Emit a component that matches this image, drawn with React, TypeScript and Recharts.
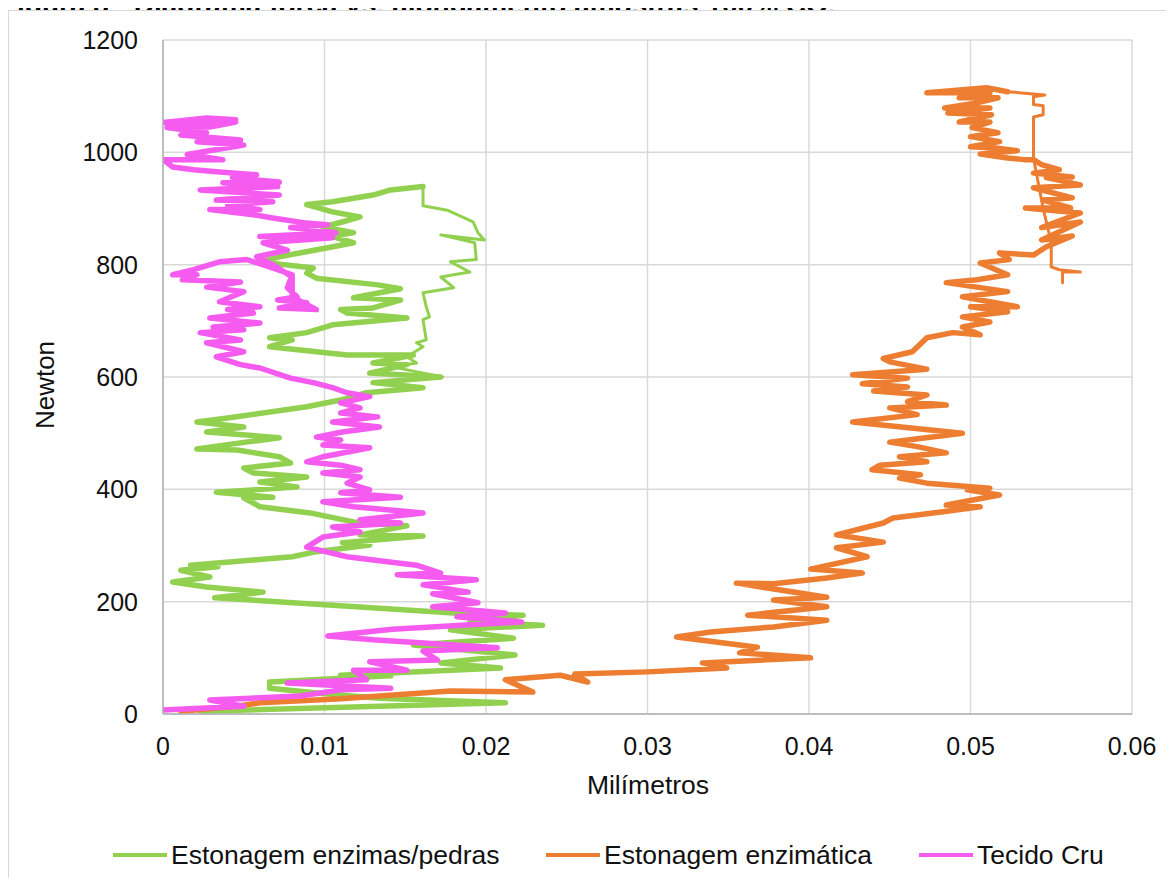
import React from 'react';
import { LineChart, Line, XAxis, YAxis, CartesianGrid } from 'recharts';

const FONT = '"Liberation Sans", Arial, sans-serif';

const titleText = 'Figura 3 - Diagrama força vs. alongamento amostras 100% CO.';
const xAxisTitle = 'Milímetros';
const yAxisTitle = 'Newton';
const seriesNames = ['Estonagem enzimas/pedras', 'Estonagem enzimática', 'Tecido Cru'];
const seriesColors = ['#92D050', '#ED7D31', '#F55BEF'];
const xTicks = [0, 0.01, 0.02, 0.03, 0.04, 0.05, 0.06];
const yTicks = [0, 200, 400, 600, 800, 1000, 1200];

// [mm, N] — loading part of "Estonagem enzimas/pedras"
const greenLoading: [number, number][] = [
  [0.0023, 5], [0.0212, 20], [0.0134, 28], [0.0097, 37], [0.0066, 46], [0.0066, 57], [0.0141, 68], [0.011, 69],
  [0.0209, 82], [0.0172, 91], [0.0218, 105], [0.0155, 123], [0.0217, 135], [0.0178, 150], [0.0235, 158], [0.019, 164],
  [0.0223, 176], [0.018, 180], [0.0032, 207], [0.0062, 217], [0.0027, 226], [0.0006, 235], [0.0029, 244], [0.0011, 256],
  [0.0034, 262], [0.0017, 265], [0.008, 280], [0.0095, 289], [0.0128, 301], [0.0111, 305], [0.0161, 317], [0.0122, 319],
  [0.0151, 335], [0.0118, 342], [0.0091, 358], [0.006, 369], [0.005, 385], [0.0068, 386], [0.0033, 395], [0.0083, 404],
  [0.006, 413], [0.0089, 422], [0.0056, 429], [0.005, 438], [0.0079, 447], [0.0072, 458], [0.0046, 470], [0.0021, 472],
  [0.0072, 492], [0.0027, 502], [0.005, 511], [0.0021, 520], [0.004, 527], [0.0089, 547], [0.011, 559], [0.0126, 572],
  [0.0161, 581], [0.013, 590], [0.0172, 600], [0.0128, 607], [0.0151, 622], [0.013, 625], [0.0155, 639], [0.0114, 639],
  [0.0066, 654], [0.008, 666], [0.0066, 670], [0.0089, 679], [0.0105, 693], [0.0151, 705], [0.0114, 714], [0.011, 720],
  [0.013, 723], [0.0147, 737], [0.0118, 741], [0.0147, 757], [0.0133, 764], [0.0095, 776], [0.0089, 785], [0.0093, 794],
  [0.006, 805], [0.0072, 814], [0.0102, 830], [0.0118, 839], [0.0105, 850], [0.0118, 857], [0.0099, 867], [0.0111, 876],
  [0.0122, 885], [0.0105, 894], [0.0089, 907], [0.0105, 912], [0.013, 924], [0.0141, 933], [0.0161, 939],
];
// unloading part of "Estonagem enzimas/pedras"
const greenUnloading: [number, number][] = [
  [0.0161, 939], [0.0161, 905], [0.0176, 897], [0.0192, 876], [0.0195, 857], [0.0199, 844], [0.0172, 853], [0.0193, 839],
  [0.0194, 809], [0.0178, 805], [0.019, 787], [0.0172, 778], [0.018, 759], [0.0161, 750], [0.0163, 725], [0.0165, 707],
  [0.0161, 702], [0.0163, 666], [0.0157, 661], [0.0161, 654], [0.0151, 636], [0.0157, 625], [0.0142, 618], [0.0173, 600],
  [0.0147, 595],
];

// loading part of "Estonagem enzimática"
const orangeLoading: [number, number][] = [
  [0.0011, 5], [0.0046, 14], [0.006, 20], [0.011, 27], [0.0178, 41], [0.0229, 39], [0.0212, 61], [0.0246, 69],
  [0.0263, 57], [0.0255, 71], [0.03, 75], [0.0349, 82], [0.0334, 91], [0.0401, 100], [0.0357, 109], [0.0368, 119],
  [0.0318, 137], [0.0339, 146], [0.0378, 155], [0.0411, 167], [0.0362, 176], [0.0411, 191], [0.0378, 203], [0.0411, 208],
  [0.0355, 233], [0.0378, 232], [0.0411, 242], [0.0433, 251], [0.0401, 258], [0.0436, 280], [0.0417, 296], [0.0446, 306],
  [0.0417, 319], [0.0446, 340], [0.0452, 349], [0.0483, 360], [0.0506, 369], [0.0485, 372], [0.0518, 390], [0.0498, 399],
  [0.0512, 402], [0.0473, 411], [0.0456, 420], [0.0469, 426], [0.0439, 435], [0.0444, 443], [0.0473, 449], [0.0456, 458],
  [0.0485, 465], [0.0467, 476], [0.045, 484], [0.0495, 500], [0.0427, 520], [0.0467, 533], [0.045, 545], [0.0485, 550],
  [0.0461, 556], [0.0473, 568], [0.044, 575], [0.0461, 582], [0.0433, 588], [0.0461, 598], [0.0427, 604], [0.0473, 614],
  [0.045, 627], [0.0446, 633], [0.0464, 645], [0.0473, 670], [0.0489, 679], [0.0506, 675], [0.0495, 689], [0.0512, 698],
  [0.0495, 707], [0.0523, 716], [0.05, 725], [0.0529, 725], [0.0495, 743], [0.0523, 752], [0.0485, 768], [0.0504, 773],
  [0.0523, 782], [0.0506, 803], [0.0524, 809], [0.0518, 821], [0.0539, 817], [0.0547, 832], [0.0563, 851], [0.0544, 844],
  [0.0568, 876], [0.0544, 866], [0.0568, 892], [0.0534, 901], [0.0562, 901], [0.0545, 915], [0.0563, 919], [0.0539, 937],
  [0.0568, 942], [0.0547, 955], [0.0563, 956], [0.0539, 963], [0.0555, 969], [0.0544, 978], [0.0539, 987], [0.0533, 987],
  [0.0523, 990], [0.0506, 997], [0.0529, 1003], [0.0514, 1008], [0.05, 1010], [0.0518, 1019], [0.05, 1028], [0.0517, 1035],
  [0.0501, 1044], [0.0512, 1054], [0.0493, 1054], [0.0513, 1067], [0.0486, 1070], [0.0512, 1079], [0.0484, 1079], [0.0504, 1088],
  [0.0517, 1097], [0.0493, 1097], [0.0512, 1106], [0.0473, 1106], [0.051, 1115], [0.0523, 1108],
];
// unloading part of "Estonagem enzimática"
const orangeUnloading: [number, number][] = [
  [0.0523, 1108], [0.0546, 1102], [0.0539, 1099], [0.0539, 1085], [0.0545, 1083], [0.0545, 1067], [0.0539, 1063],
  [0.0539, 990], [0.0545, 900], [0.055, 839], [0.055, 796], [0.0555, 791], [0.0568, 787], [0.0557, 787], [0.0557, 768],
];

// "Tecido Cru"
const magentaPoints: [number, number][] = [
  [0, 7], [0.005, 14], [0.0029, 25], [0.0085, 32], [0.011, 43], [0.0141, 46], [0.0077, 55], [0.0126, 61],
  [0.0118, 78], [0.0151, 78], [0.0128, 93], [0.017, 96], [0.0161, 112], [0.0207, 118], [0.013, 132], [0.0102, 139],
  [0.0142, 151], [0.0222, 164], [0.0182, 173], [0.0212, 180], [0.0167, 191], [0.0195, 198], [0.0167, 214], [0.0189, 217],
  [0.0161, 230], [0.0194, 239], [0.0145, 248], [0.0172, 251], [0.0157, 265], [0.0139, 271], [0.0114, 280], [0.0089, 297],
  [0.0099, 315], [0.0122, 324], [0.0105, 333], [0.0147, 340], [0.0122, 346], [0.0161, 358], [0.0118, 369], [0.0099, 378],
  [0.0147, 386], [0.011, 394], [0.0128, 399], [0.0114, 411], [0.0122, 422], [0.0099, 429], [0.0122, 435], [0.011, 443],
  [0.0089, 449], [0.0099, 458], [0.0128, 474], [0.0099, 479], [0.011, 488], [0.0095, 493], [0.0111, 502], [0.0134, 511],
  [0.0105, 520], [0.0133, 529], [0.011, 536], [0.0122, 545], [0.011, 554], [0.0128, 565], [0.0114, 572], [0.0105, 581],
  [0.0093, 590], [0.0079, 598], [0.006, 616], [0.0048, 622], [0.0033, 636], [0.005, 645], [0.0027, 661], [0.0048, 666],
  [0.0023, 679], [0.005, 684], [0.0031, 689], [0.006, 696], [0.0029, 705], [0.0056, 714], [0.004, 720], [0.006, 725],
  [0.0035, 734], [0.005, 752], [0.0027, 760], [0.0048, 769], [0.0012, 773], [0.0021, 782], [0.0006, 782], [0.0019, 791],
  [0.0035, 805], [0.0052, 809], [0.0066, 796], [0.008, 782], [0.0077, 759], [0.0083, 743], [0.0071, 737], [0.0089, 732],
  [0.0072, 723], [0.0095, 720], [0.008, 743], [0.008, 778], [0.0068, 800], [0.0058, 814], [0.0077, 826], [0.0062, 839],
  [0.0105, 848], [0.006, 850], [0.0107, 857], [0.0079, 866], [0.0102, 871], [0.0089, 874], [0.0068, 883], [0.0056, 889],
  [0.0029, 898], [0.006, 898], [0.004, 907], [0.0068, 912], [0.0033, 915], [0.0072, 924], [0.0023, 933], [0.0071, 939],
  [0.0037, 946], [0.0072, 947], [0.0043, 955], [0.0058, 960], [0.0035, 965], [0.0019, 969], [0.0006, 974], [0, 987],
  [0.0037, 987], [0.0015, 996], [0.0025, 1001], [0.005, 1013], [0.0021, 1019], [0.0048, 1022], [0.0011, 1031], [0.0027, 1035],
  [0.00025, 1044], [0.0029, 1045], [0.0045, 1054], [0, 1053], [0.0027, 1061], [0.0045, 1058],
];

// each drawn piece: [series index, points, thick?]
const pieces: [number, [number, number][], boolean][] = [
  [0, greenLoading, true],
  [0, greenUnloading, false],
  [1, orangeLoading, true],
  [1, orangeUnloading, false],
  [2, magentaPoints, true],
];
const toRows = (pts: [number, number][]) => pts.map(([x, y]) => ({ x, y }));

const TICK_STYLE = { fontSize: 25, fill: '#111', fontFamily: FONT };

export default function App() {
  const legendLeft = [104, 537, 910];
  return (
    <div style={{ position: 'relative', width: 1166, height: 870, fontFamily: FONT }}>
      <div
        style={{
          position: 'absolute', left: -8, top: -17, whiteSpace: 'nowrap',
          fontSize: 28, lineHeight: '28px', fontWeight: 'bold', color: '#000',
        }}
      >
        {titleText}
      </div>
      <div
        style={{
          position: 'absolute', left: 0, top: 2, width: 1164, height: 868,
          borderLeft: '1px solid #d9d9d9', borderTop: '1px solid #d9d9d9', borderRight: '1px solid #d9d9d9',
          boxSizing: 'border-box', background: '#fff',
        }}
      />
      <div style={{ position: 'absolute', left: 0, top: 0 }}>
        <LineChart width={1166} height={870} margin={{ top: 32, right: 42, bottom: 104, left: 60 }}>
          <CartesianGrid stroke="#d9d9d9" strokeWidth={1.5} />
          <XAxis
            type="number" dataKey="x" domain={[0, 0.06]} ticks={xTicks} allowDataOverflow
            height={60} tickSize={0} tickMargin={23} tick={TICK_STYLE}
            axisLine={{ stroke: '#b0b0b0', strokeWidth: 1.5 }}
            tickFormatter={(v: number) => String(v)}
          />
          <YAxis
            type="number" dataKey="y" domain={[0, 1200]} ticks={yTicks} allowDataOverflow
            width={95} tickSize={0} tickMargin={25} tick={TICK_STYLE}
            axisLine={{ stroke: '#b0b0b0', strokeWidth: 1.5 }}
          />
          {pieces.map(([s, pts, thick], i) => (
            <Line
              key={`piece-${i}`}
              data={toRows(pts)}
              dataKey="y"
              name={seriesNames[s]}
              type="linear"
              stroke={seriesColors[s]}
              strokeWidth={thick ? 5.5 : 3}
              strokeLinejoin="round"
              strokeLinecap="round"
              dot={false}
              activeDot={false}
              isAnimationActive={false}
            />
          ))}
        </LineChart>
      </div>
      <div
        style={{
          position: 'absolute', left: 37 - 60, top: 385 - 8 - 15, width: 120, textAlign: 'center',
          transform: 'rotate(-90deg)', fontSize: 26, lineHeight: '30px', color: '#111',
        }}
      >
        {yAxisTitle}
      </div>
      <div
        style={{
          position: 'absolute', left: 640 - 100, top: 785 - 8 - 15, width: 200, textAlign: 'center',
          fontSize: 26.5, lineHeight: '30px', color: '#111',
        }}
      >
        {xAxisTitle}
      </div>
      {seriesNames.map((name, i) => (
        <div
          key={name}
          style={{
            position: 'absolute', left: legendLeft[i], top: 855 - 8 - 15, height: 30,
            display: 'flex', alignItems: 'center', whiteSpace: 'nowrap', fontSize: 26.5, color: '#111',
          }}
        >
          <svg width={56} height={6} style={{ marginRight: 3 }}>
            <line x1={1} y1={3} x2={55} y2={3} stroke={seriesColors[i]} strokeWidth={4} />
          </svg>
          <span>{name}</span>
        </div>
      ))}
    </div>
  );
}
